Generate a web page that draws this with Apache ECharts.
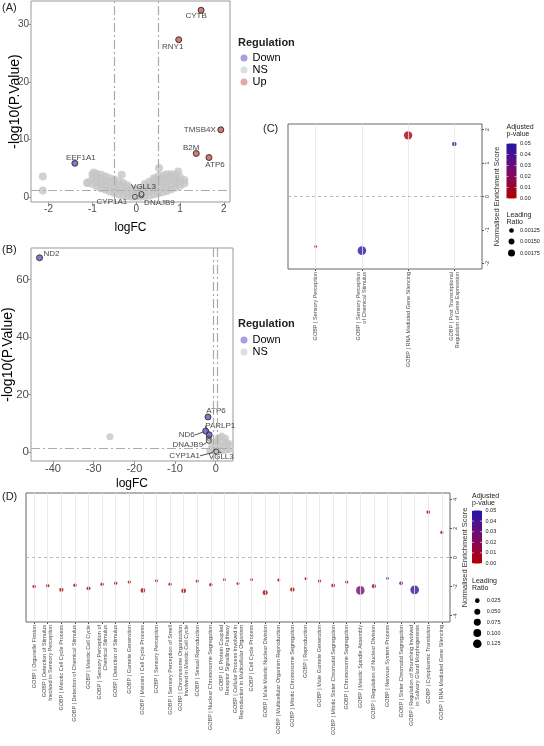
<!DOCTYPE html>
<html>
<head>
<meta charset="utf-8">
<script src="https://cdn.jsdelivr.net/npm/echarts@6/dist/echarts.min.js"></script>
<style>
html,body{margin:0;padding:0;background:#fff}
#chart{width:544px;height:746px}
</style>
</head>
<body>
<div id="chart"></div>
<script>
// ---- panel A : volcano ----
const ticksAx = [-2, -1, 0, 1, 2];
const ticksAy = [0, 10, 20, 30];
const nsA = [
  [-1.1,2.6],[-1.0,2.3],[-1.0,3.1],[-1.0,3.9],
  [-0.9,1.9],[-0.9,2.7],[-0.9,3.5],[-0.9,4.1],
  [-0.8,1.6],[-0.8,2.4],[-0.8,3.2],[-0.8,3.9],
  [-0.7,1.3],[-0.7,2.1],[-0.7,2.9],[-0.7,3.6],
  [-0.6,1.0],[-0.6,1.8],[-0.6,2.6],[-0.6,3.3],
  [-0.5,0.8],[-0.5,1.6],[-0.5,2.4],[-0.5,3.1],
  [-0.4,0.5],[-0.4,1.3],[-0.4,2.1],[-0.4,2.8],
  [-0.3,0.3],[-0.3,1.1],[-0.3,1.9],[-0.3,2.5],[-0.33,3.9],
  [-0.2,0.2],[-0.2,0.9],[-0.2,1.6],[-0.2,2.1],
  [-0.1,0.1],[-0.1,0.8],[-0.1,1.5],
  [0.0,0.1],[0.0,0.7],[0.0,1.3],
  [0.1,0.1],[0.1,0.8],[0.1,1.6],
  [0.2,0.2],[0.2,1.0],[0.2,1.8],[0.2,2.3],
  [0.3,0.3],[0.3,1.1],[0.3,1.9],[0.3,2.7],
  [0.4,0.5],[0.4,1.3],[0.4,2.1],[0.4,2.9],[0.4,3.3],
  [0.5,0.7],[0.5,1.5],[0.5,2.3],[0.5,3.1],[0.5,3.6],[0.52,5.1],
  [0.6,0.9],[0.6,1.7],[0.6,2.5],[0.6,3.3],[0.6,3.8],
  [0.7,1.1],[0.7,1.9],[0.7,2.7],[0.7,3.5],[0.7,4.0],
  [0.8,1.4],[0.8,2.2],[0.8,3.0],[0.8,3.7],[0.8,4.0],
  [0.9,1.7],[0.9,2.5],[0.9,3.2],[0.9,3.9],
  [1.0,2.0],[1.0,2.8],[1.0,3.5],
  [1.1,2.4],[1.1,3.0],
  [0.96,4.5],[-0.97,4.3],[-2.13,3.6],[-2.13,1.2],[-1.12,2.5]
];
const downA = [[-1.40, 5.9, 'EEF1A1']];
const upA = [
  [1.48, 32.4, 'CYTB'], [0.97, 27.3, 'RNY1'], [1.93, 11.7, 'TMSB4X'],
  [1.37, 7.6, 'B2M'], [1.66, 6.9, 'ATP6']
];
const markA = [[-0.03, 0.1, 'CYP1A1'], [0.12, 0.35, 'DNAJB9'], [0.12, 0.6, 'VGLL3']];

// ---- panel B : volcano ----
const ticksBx = [-40, -30, -20, -10, 0];
const ticksBy = [0, 20, 40, 60];
const nsB = [
  [-1.5,0.5],[-0.5,0.6],[0.5,0.5],[1.5,0.5],[2.5,0.6],[3.3,0.8],
  [-1.0,2.0],[0.0,2.1],[1.0,2.0],[2.0,2.2],[3.0,2.3],
  [-0.5,3.5],[0.5,3.6],[1.5,3.8],[2.5,3.4],[3.3,3.0],
  [0.6,5.0],[1.5,5.6],[2.4,4.8],
  [-26.0,5.3]
];
const downB = [
  [-43.3, 67.5, 'ND2'], [-1.9, 12.2, 'ATP6'], [-2.46, 7.3, 'ND6'], [-1.6, 6.0, 'PARLP1']
];
const markB = [[-1.7, 4.8, ''], [-1.7, 3.9, 'DNAJB9'], [0.0, 0.1, 'CYP1A1'], [0.15, 0.2, 'VGLL3']];

// ---- panel C : enrichment ----
const catsC = [
  'GOBP | Sensory Perception',
  'GOBP | Sensory Perception\nof Chemical Stimulus',
  'GOBP | RNA Mediated Gene Silencing',
  'GOBP | Post Transcriptional\nRegulation of Gene Expression'
];
const nesC = [-1.5, -1.62, 1.83, 1.57];
const padjC = [0.002, 0.049, 0.004, 0.036];
const ratioC = [0.00085, 0.0021, 0.00205, 0.00124];
const ticksCy = [-2, -1, 0, 1, 2];
const sizeBreaksC = [0.00125, 0.0015, 0.00175];

// ---- panel D : enrichment ----
const catsD = [
  'GOBP | Organelle Fission',
  'GOBP | Detection of Stimulus\nInvolved in Sensory Perception',
  'GOBP | Meiotic Cell Cycle Process',
  'GOBP | Detection of Chemical Stimulus',
  'GOBP | Meiotic Cell Cycle',
  'GOBP | Sensory Perception of\nChemical Stimulus',
  'GOBP | Detection of Stimulus',
  'GOBP | Gamete Generation',
  'GOBP | Meiosis I Cell Cycle Process',
  'GOBP | Sensory Perception',
  'GOBP | Sensory Perception of Smell',
  'GOBP | Chromosome Organization\nInvolved in Meiotic Cell Cycle',
  'GOBP | Sexual Reproduction',
  'GOBP | Nuclear Chromosome Segregation',
  'GOBP | G Protein Coupled\nReceptor Signalling Pathway',
  'GOBP | Cellular Process Involved in\nReproduction in Multicellular Organism',
  'GOBP | Cell Cycle Process',
  'GOBP | Male Meiotic Nuclear Division',
  'GOBP | Multicellular Organism Reproduction',
  'GOBP | Mitotic Chromosome Segregation',
  'GOBP | Reproduction',
  'GOBP | Male Gamete Generation',
  'GOBP | Mitotic Sister Chromatid Segregation',
  'GOBP | Chromosome Segregation',
  'GOBP | Meiotic Spindle Assembly',
  'GOBP | Regulation of Nuclear Division',
  'GOBP | Nervous System Process',
  'GOBP | Sister Chromatid Segregation',
  'GOBP | Regulation of Branching Involved\nin Salivary Gland Morphogenesis',
  'GOBP | Cytoplasmic Translation',
  'GOBP | RNA Mediated Gene Silencing'
];
const nesD = [-1.99,-1.94,-2.22,-1.90,-2.12,-1.83,-1.76,-1.69,-2.26,-1.60,-1.83,-2.29,-1.62,-1.88,-1.53,
  -1.78,-1.53,-2.40,-1.55,-2.19,-1.46,-1.62,-1.92,-1.69,-2.26,-1.97,-1.44,-1.76,-2.22,3.12,1.72];
const padjD = [0.002,0.002,0.002,0.002,0.002,0.002,0.002,0.002,0.002,0.002,0.002,0.002,0.002,0.002,0.002,
  0.002,0.002,0.002,0.002,0.003,0.002,0.002,0.003,0.002,0.026,0.018,0.040,0.028,0.045,0.002,0.003];
const ratioD = [0.010,0.010,0.020,0.010,0.015,0.010,0.008,0.008,0.025,0.006,0.008,0.028,0.008,0.010,0.005,
  0.006,0.005,0.032,0.006,0.022,0.005,0.007,0.012,0.008,0.125,0.018,0.004,0.012,0.13,0.012,0.008];
const ticksDy = [-4, -2, 0, 2, 4];
const sizeBreaksD = [0.025, 0.05, 0.075, 0.1, 0.125];
const padjTicks = [0, 0.01, 0.02, 0.03, 0.04, 0.05];

const FONT = '"Liberation Sans", Arial, sans-serif';
const LOW = '#b30000', MID = '#790a6e', HIGH = '#2516a8';

const sizeC = r => 4.7 + 4600 * (r - 0.00125);
const sizeD = r => 20 * Math.sqrt(r) + 1.5;

// label shifts (label centre relative to point)
const shiftA = {CYTB:[-5,6], RNY1:[-6,7], TMSB4X:[-21,0], B2M:[-5,-6], ATP6:[6,7], EEF1A1:[6,-6],
  VGLL3:[2,-7], CYP1A1:[-23,5], DNAJB9:[18,7]};
const shiftB = {ND2:[12,-4], ATP6:[8,-6], ND6:[-19,4], PARLP1:[11,-9], DNAJB9:[-21,4],
  CYP1A1:[-31,4], VGLL3:[5,5]};
const lineB = {ND6:true, PARLP1:true, DNAJB9:true, CYP1A1:true, VGLL3:true};

function layoutBy(map) {
  return function (p) {
    const s = map[p.text];
    return s ? {dx: s[0], dy: s[1]} : {};
  };
}
function pts(arr, withLine) {
  return arr.map(d => ({
    value: [d[0], d[1]], name: d[2],
    labelLine: {show: !!(withLine && lineB[d[2]])}
  }));
}
const ptLabel = {show: true, position: 'inside', formatter: '{b}', color: '#111', fontSize: 8, fontFamily: FONT};

function volX(grid, min, max, ticks, fs, gap) {
  return {
    gridIndex: grid, type: 'value', min: min, max: max,
    axisLine: {show: false, onZero: false}, splitLine: {show: false},
    axisTick: {show: true, length: 3, lineStyle: {color: '#999'}, customValues: ticks},
    axisLabel: {customValues: ticks, fontSize: fs, color: '#4d4d4d', margin: 2},
    name: 'logFC', nameLocation: 'middle', nameGap: gap, nameMoveOverlap: false,
    nameTextStyle: {fontSize: 12, color: '#000'}
  };
}
function volY(grid, min, max, ticks, fs, gap) {
  return {
    gridIndex: grid, type: 'value', min: min, max: max,
    axisLine: {show: false, onZero: false}, splitLine: {show: false},
    axisTick: {show: true, length: 3, lineStyle: {color: '#999'}, customValues: ticks},
    axisLabel: {customValues: ticks, fontSize: fs, color: '#4d4d4d', margin: 2},
    name: '-log10(P.Value)', nameLocation: 'middle', nameGap: gap, nameRotate: 90, nameMoveOverlap: false,
    nameTextStyle: {fontSize: 14, color: '#000'}
  };
}
function gseaX(grid, min, max, cats) {
  const vals = cats.map((c, i) => i + 1);
  return {
    gridIndex: grid, type: 'value', min: min, max: max,
    axisLine: {show: false, onZero: false}, splitLine: {show: false},
    axisTick: {show: true, length: 2, lineStyle: {color: '#555'}, customValues: vals},
    axisLabel: {customValues: vals, rotate: 90, fontSize: 5.5, lineHeight: 6, color: '#4d4d4d', margin: 3,
      formatter: v => cats[Math.round(v) - 1]}
  };
}
function gseaY(grid, min, max, ticks, gap) {
  return {
    gridIndex: grid, type: 'value', position: 'right', min: min, max: max,
    axisLine: {show: false, onZero: false}, splitLine: {show: false},
    axisTick: {show: true, length: 2, lineStyle: {color: '#555'}, customValues: ticks},
    axisLabel: {customValues: ticks, rotate: 90, fontSize: 6, color: '#4d4d4d', margin: 2},
    name: 'Normalised Enrichment Score', nameLocation: 'middle', nameGap: gap, nameRotate: 90,
    nameMoveOverlap: false,
    nameTextStyle: {fontSize: 7.5, color: '#333'}
  };
}

const dashRef = {color: '#ababab', width: 1.2, type: [9, 3, 2, 3]};
const series = [];
function add(s) { series.push(s); return series.length - 1; }

// A
add({name: 'NS', type: 'scatter', xAxisIndex: 0, yAxisIndex: 0, data: nsA, symbolSize: 8,
  itemStyle: {color: '#c6c6c6'}, silent: true, z: 2});
add({name: 'refA', type: 'scatter', xAxisIndex: 0, yAxisIndex: 0, data: [], z: 3,
  markLine: {symbol: 'none', silent: true, label: {show: false}, lineStyle: dashRef,
    data: [{xAxis: -0.5}, {xAxis: 0.5}, {yAxis: 1.3}]}});
add({name: 'lblA', type: 'scatter', xAxisIndex: 0, yAxisIndex: 0, data: pts(markA), symbolSize: 5,
  itemStyle: {color: '#c6c6c6', borderColor: '#333', borderWidth: 1}, label: ptLabel,
  labelLayout: layoutBy(shiftA), z: 4});
add({name: 'Down', type: 'scatter', xAxisIndex: 0, yAxisIndex: 0, data: pts(downA), symbolSize: 6,
  itemStyle: {color: '#5a5ab8', borderColor: '#222', borderWidth: 1}, label: ptLabel,
  labelLayout: layoutBy(shiftA), z: 4});
add({name: 'Up', type: 'scatter', xAxisIndex: 0, yAxisIndex: 0, data: pts(upA), symbolSize: 6,
  itemStyle: {color: '#c05a5a', borderColor: '#2a1010', borderWidth: 1}, label: ptLabel,
  labelLayout: layoutBy(shiftA), z: 4});

// B
add({name: 'NS', type: 'scatter', xAxisIndex: 1, yAxisIndex: 1, data: nsB, symbolSize: 7,
  itemStyle: {color: '#c6c6c6'}, silent: true, z: 2});
add({name: 'refB', type: 'scatter', xAxisIndex: 1, yAxisIndex: 1, data: [], z: 3,
  markLine: {symbol: 'none', silent: true, label: {show: false}, lineStyle: dashRef,
    data: [{xAxis: -0.5}, {xAxis: 0.5}, {yAxis: 1.3}]}});
add({name: 'lblB', type: 'scatter', xAxisIndex: 1, yAxisIndex: 1, data: pts(markB, true), symbolSize: 5,
  itemStyle: {color: '#c6c6c6', borderColor: '#333', borderWidth: 1}, label: ptLabel,
  labelLine: {show: true, lineStyle: {color: '#222', width: 0.8}},
  labelLayout: layoutBy(shiftB), z: 4});
add({name: 'Down', type: 'scatter', xAxisIndex: 1, yAxisIndex: 1, data: pts(downB, true), symbolSize: 6,
  itemStyle: {color: '#5a5ab8', borderColor: '#222', borderWidth: 1}, label: ptLabel,
  labelLine: {show: true, lineStyle: {color: '#222', width: 0.8}},
  labelLayout: layoutBy(shiftB), z: 4});

// C
const gridLinesC = catsC.map((c, i) => ({xAxis: i + 1, lineStyle: {color: '#e6e6e6', width: 0.8, type: 'solid'}}));
add({name: 'refC', type: 'scatter', xAxisIndex: 2, yAxisIndex: 2, data: [], z: 1,
  markLine: {symbol: 'none', silent: true, label: {show: false},
    data: gridLinesC.concat([{yAxis: 0, lineStyle: {color: '#aaa', width: 0.8, type: [3, 3]}}])}});
const idxC = add({name: 'gseaC', type: 'scatter', xAxisIndex: 2, yAxisIndex: 2, z: 4,
  data: catsC.map((c, i) => [i + 1, nesC[i], padjC[i], ratioC[i]]),
  symbolSize: d => sizeC(d[3])});

// D
const gridLinesD = catsD.map((c, i) => ({xAxis: i + 1, lineStyle: {color: '#e6e6e6', width: 0.8, type: 'solid'}}));
add({name: 'refD', type: 'scatter', xAxisIndex: 3, yAxisIndex: 3, data: [], z: 1,
  markLine: {symbol: 'none', silent: true, label: {show: false},
    data: gridLinesD.concat([{yAxis: 0, lineStyle: {color: '#aaa', width: 0.8, type: [3, 3]}}])}});
const idxD = add({name: 'gseaD', type: 'scatter', xAxisIndex: 3, yAxisIndex: 3, z: 4,
  data: catsD.map((c, i) => [i + 1, nesD[i], padjD[i], ratioD[i]]),
  symbolSize: d => sizeD(d[3])});

// legends drawn as graphics (colour bar + size keys)
function txt(x, y, s, size, opts) {
  return Object.assign({type: 'text', silent: true,
    style: {text: s, x: x, y: y, fontSize: size, fontFamily: FONT, fill: '#222',
      align: 'left', verticalAlign: 'middle', textAlign: 'left', textVerticalAlign: 'middle'}}, opts || {});
}
function colourKey(x, y, w, h, lx) {
  const els = [];
  els.push({type: 'rect', silent: true, shape: {x: x, y: y, width: w, height: h},
    style: {fill: new echarts.graphic.LinearGradient(0, 1, 0, 0,
      [{offset: 0, color: LOW}, {offset: 0.5, color: MID}, {offset: 1, color: HIGH}])}});
  padjTicks.forEach(v => {
    const ty = y + h * (1 - v / 0.05);
    els.push({type: 'line', silent: true, shape: {x1: x, y1: ty, x2: x + 2, y2: ty}, style: {stroke: '#fff', lineWidth: 0.6}});
    els.push({type: 'line', silent: true, shape: {x1: x + w - 2, y1: ty, x2: x + w, y2: ty}, style: {stroke: '#fff', lineWidth: 0.6}});
    els.push(txt(lx, ty, v.toFixed(2), 5.5));
  });
  return els;
}
function sizeKey(cx, ys, lx, breaks, fn, digits) {
  const els = [];
  breaks.forEach((b, i) => {
    els.push({type: 'circle', silent: true, shape: {cx: cx, cy: ys[i], r: fn(b) / 2}, style: {fill: '#000'}});
    els.push(txt(lx, ys[i], b.toFixed(digits), 5.5));
  });
  return els;
}

const graphics = [].concat(
  [txt(2, 8, '(A)', 11), txt(2, 250, '(B)', 11), txt(263, 129, '(C)', 11), txt(2, 497, '(D)', 11)],
  [txt(238, 43, 'Regulation', 11, {}), txt(238, 324, 'Regulation', 11, {})],
  [txt(506.5, 126.7, 'Adjusted', 7), txt(506.5, 134.3, 'p-value', 7)],
  colourKey(506.5, 143.5, 10, 55, 520),
  [txt(506.5, 215.5, 'Leading', 7), txt(506.5, 222.5, 'Ratio', 7)],
  sizeKey(511.5, [230.5, 241.5, 253], 520, sizeBreaksC, sizeC, 5),
  [txt(472, 495.6, 'Adjusted', 7), txt(472, 503.2, 'p-value', 7)],
  colourKey(472, 510.5, 10, 53, 485.5),
  [txt(472, 580.7, 'Leading', 7), txt(472, 587.7, 'Ratio', 7)],
  sizeKey(477.3, [600.7, 611.7, 622.3, 633, 643.7], 486.7, sizeBreaksD, sizeD, 3)
);
graphics[4].style.fontWeight = 'bold';
graphics[5].style.fontWeight = 'bold';

const legendText = {fontSize: 11, color: '#000', lineHeight: 12, fontFamily: FONT};
const option = {
  animation: false,
  backgroundColor: '#fff',
  textStyle: {fontFamily: FONT},
  grid: [
    {left: 31, top: 1, width: 199, height: 201, show: true, borderColor: '#999', borderWidth: 1, containLabel: false, outerBoundsMode: 'none'},
    {left: 31, top: 248, width: 202, height: 213, show: true, borderColor: '#999', borderWidth: 1, containLabel: false, outerBoundsMode: 'none'},
    {left: 288, top: 124, width: 194, height: 145, show: true, borderColor: '#666', borderWidth: 1, containLabel: false, outerBoundsMode: 'none'},
    {left: 26, top: 493, width: 424, height: 129, show: true, borderColor: '#666', borderWidth: 1, containLabel: false, outerBoundsMode: 'none'}
  ],
  xAxis: [
    volX(0, -2.4, 2.14, ticksAx, 10, 20),
    volX(1, -45.4, 4.25, ticksBx, 11, 17),
    gseaX(2, 0.4, 4.6, catsC),
    gseaX(3, 0.4, 31.6, catsD)
  ],
  yAxis: [
    volY(0, -0.8, 34, ticksAy, 10, 8.5),
    volY(1, -3.1, 70.9, ticksBy, 11.5, 16),
    gseaY(2, -2.17, 2.17, ticksCy, 10.5),
    gseaY(3, -4.43, 4.43, ticksDy, 11)
  ],
  legend: [
    {left: 240.5, top: 52, orient: 'vertical', padding: 0, itemWidth: 7, itemHeight: 7, itemGap: 0,
      icon: 'circle', selectedMode: false, textStyle: legendText,
      data: [{name: 'Down', itemStyle: {color: '#8c8cd6', borderWidth: 0}},
             {name: 'NS', itemStyle: {color: '#d6d6d6', borderWidth: 0}},
             {name: 'Up', itemStyle: {color: '#e09292', borderWidth: 0}}]},
    {left: 240.5, top: 334, orient: 'vertical', padding: 0, itemWidth: 7, itemHeight: 7, itemGap: 0,
      icon: 'circle', selectedMode: false, textStyle: legendText,
      data: [{name: 'Down', itemStyle: {color: '#8c8cd6', borderWidth: 0}},
             {name: 'NS', itemStyle: {color: '#d6d6d6', borderWidth: 0}}]}
  ],
  visualMap: [
    {type: 'continuous', show: false, seriesIndex: idxC, dimension: 2, min: 0, max: 0.05,
      inRange: {color: [LOW, MID, HIGH]}},
    {type: 'continuous', show: false, seriesIndex: idxD, dimension: 2, min: 0, max: 0.05,
      inRange: {color: [LOW, MID, HIGH]}}
  ],
  graphic: {elements: graphics},
  series: series
};

const chart = echarts.init(document.getElementById('chart'));
chart.setOption(option);
</script>
</body>
</html>
